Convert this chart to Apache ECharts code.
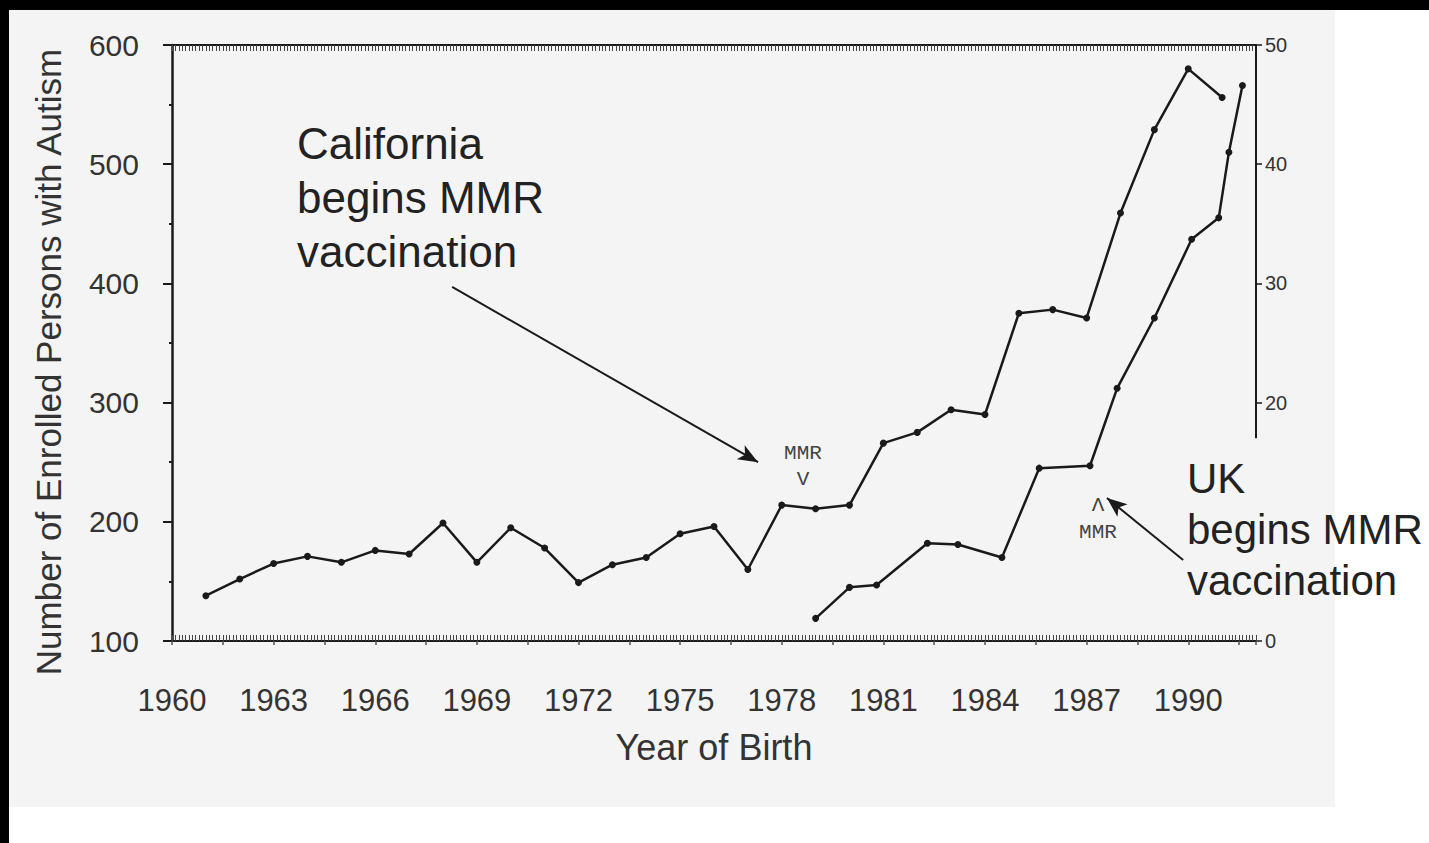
<!DOCTYPE html>
<html>
<head>
<meta charset="utf-8">
<script src="https://cdn.jsdelivr.net/npm/echarts@6/dist/echarts.min.js"></script>
<style>
html,body{margin:0;padding:0;background:#fff;}
#c{width:1429px;height:843px;}
</style>
</head>
<body>
<div id="c"></div>
<script>
// ---- data ----
const californiaYears = [1961,1962,1963,1964,1965,1966,1967,1968,1969,1970,1971,1972,1973,1974,1975,1976,1977,1978,1979,1980,1981,1982,1983,1984,1985,1986,1987,1988,1989,1990,1991];
const californiaValues = [138,152,165,171,166,176,173,199,166,195,178,149,164,170,190,196,160,214,211,214,266,275,294,290,375,378,371,459,529,580,556];
const ukYears = [1979.0,1980.0,1980.8,1982.3,1983.2,1984.5,1985.6,1987.1,1987.9,1989.0,1990.1,1990.9,1991.2,1991.6];
const ukValues = [1.9,4.5,4.7,8.2,8.1,7.0,14.5,14.7,21.2,27.1,33.7,35.5,41.0,46.6];
const xTickLabels = ['1960','1963','1966','1969','1972','1975','1978','1981','1984','1987','1990'];
const leftTickLabels = ['100','200','300','400','500','600'];
const rightTickLabels = ['0','20','30','40','50'];
const yTitle = 'Number of Enrolled Persons with Autism';
const xTitle = 'Year of Birth';
const californiaNote = 'California\nbegins MMR\nvaccination';
const ukNote = 'UK\nbegins MMR\nvaccination';
const californiaMark = 'MMR\nV';
const ukMark = 'Λ\nMMR';
// arrows in data space (year, left-axis value)
const californiaArrow = [[1968.27, 397], [1977.3, 250]];
const ukArrow = [[1989.85, 168], [1987.6, 220]];

const SANS = '"Liberation Sans", Arial, Helvetica, sans-serif';
const MONO = '"Liberation Mono", "Courier New", monospace';
const INK = '#1a1a1a';

const chart = echarts.init(document.getElementById('c'), null, {renderer: 'svg'});

const hatchAxis = (pos) => ({
  type: 'value', min: 1960, max: 1992, position: pos, interval: 0.1,
  axisLine: {show: true, lineStyle: {color: INK, width: 2}},
  axisTick: {show: true, inside: true, length: 6, lineStyle: {color: '#444', width: 1}},
  axisLabel: {show: false}, splitLine: {show: false}
});

chart.setOption({
  backgroundColor: '#ffffff',
  animation: false,
  grid: {left: 172, right: 173, top: 45, bottom: 202, containLabel: false, outerBoundsMode: 'none'},
  xAxis: [
    {
      type: 'value', min: 1960, max: 1992, interval: 1.5, position: 'bottom',
      axisLine: {show: true, lineStyle: {color: INK, width: 2}},
      axisTick: {show: true, length: 4, lineStyle: {color: '#555', width: 1.5}},
      axisLabel: {
        margin: 44, fontSize: 31, fontFamily: SANS, color: '#333',
        formatter: v => { const s = String(Math.round(v)); return (Math.abs(v - Math.round(v)) < 1e-6 && xTickLabels.includes(s)) ? s : ''; }
      },
      splitLine: {show: false},
      name: xTitle, nameLocation: 'middle', nameGap: 88,
      nameTextStyle: {fontSize: 36, fontFamily: SANS, color: '#333'}
    },
    hatchAxis('top'),
    hatchAxis('bottom')
  ],
  yAxis: [
    {
      type: 'value', min: 100, max: 600, interval: 100, position: 'left',
      axisLine: {show: true, lineStyle: {color: INK, width: 2.5}},
      axisTick: {show: true, length: 9, lineStyle: {color: INK, width: 2}},
      minorTick: {show: true, splitNumber: 2, length: 3, lineStyle: {color: INK, width: 2}},
      axisLabel: {margin: 33, fontSize: 30, fontFamily: SANS, color: '#333',
        formatter: v => leftTickLabels.includes(String(v)) ? String(v) : ''},
      splitLine: {show: false},
      name: yTitle, nameLocation: 'middle', nameGap: 106, nameRotate: 90,
      nameTextStyle: {fontSize: 35, fontFamily: SANS, color: '#333', padding: [0, 38, 0, 0]}
    },
    {
      type: 'value', min: 0, max: 50, interval: 10, position: 'right',
      axisLine: {show: false},
      axisTick: {show: true, length: 6, customValues: rightTickLabels.map(Number), lineStyle: {color: INK, width: 1.5}},
      axisLabel: {margin: 9, fontSize: 20, fontFamily: SANS, color: '#333',
        customValues: rightTickLabels.map(Number)},
      splitLine: {show: false}
    }
  ],
  series: [
    {
      name: 'California', type: 'line', xAxisIndex: 0, yAxisIndex: 0,
      data: californiaYears.map((y, i) => [y, californiaValues[i]]),
      lineStyle: {color: INK, width: 2.5},
      itemStyle: {color: INK},
      symbol: 'circle', symbolSize: 7, z: 5,
      markLine: {
        silent: true, symbol: ['none', 'arrow'], symbolSize: [12, 20],
        label: {show: false},
        lineStyle: {color: INK, width: 2, type: 'solid'},
        data: [
          [{coord: californiaArrow[0]}, {coord: californiaArrow[1]}],
          [{coord: ukArrow[0]}, {coord: ukArrow[1]}]
        ]
      }
    },
    {
      name: 'UK', type: 'line', xAxisIndex: 0, yAxisIndex: 1,
      data: ukYears.map((y, i) => [y, ukValues[i]]),
      lineStyle: {color: INK, width: 2.5},
      itemStyle: {color: INK},
      symbol: 'circle', symbolSize: 7, z: 5,
      markLine: {
        silent: true, symbol: ['none', 'none'],
        label: {show: false},
        lineStyle: {color: INK, width: 2, type: 'solid'},
        data: [[{coord: [1992, 17]}, {coord: [1992, 50]}]]
      }
    }
  ],
  graphic: [
    {type: 'rect', silent: true, z: -100, shape: {x: 0, y: 0, width: 1429, height: 10}, style: {fill: '#000'}},
    {type: 'rect', silent: true, z: -100, shape: {x: 0, y: 0, width: 9, height: 843}, style: {fill: '#000'}},
    {type: 'rect', silent: true, z: -100, shape: {x: 9, y: 10, width: 1326, height: 797}, style: {fill: '#f4f4f4'}},
    {type: 'text', silent: true, z: 50, style: {x: 297, y: 116, text: californiaNote, fontSize: 44, lineHeight: 54,
      fontFamily: SANS, fill: '#222', textAlign: 'left', textVerticalAlign: 'top'}},
    {type: 'text', silent: true, z: 50, style: {x: 1187, y: 453, text: ukNote, fontSize: 42, lineHeight: 51,
      fontFamily: SANS, fill: '#222', textAlign: 'left', textVerticalAlign: 'top'}},
    {type: 'text', silent: true, z: 50, style: {x: 803, y: 440, text: californiaMark, fontSize: 21, lineHeight: 26,
      fontFamily: MONO, fill: '#444', textAlign: 'center', textVerticalAlign: 'top'}},
    {type: 'text', silent: true, z: 50, style: {x: 1098, y: 492, text: ukMark, fontSize: 21, lineHeight: 27,
      fontFamily: MONO, fill: '#444', textAlign: 'center', textVerticalAlign: 'top'}}
  ]
});
</script>
</body>
</html>
